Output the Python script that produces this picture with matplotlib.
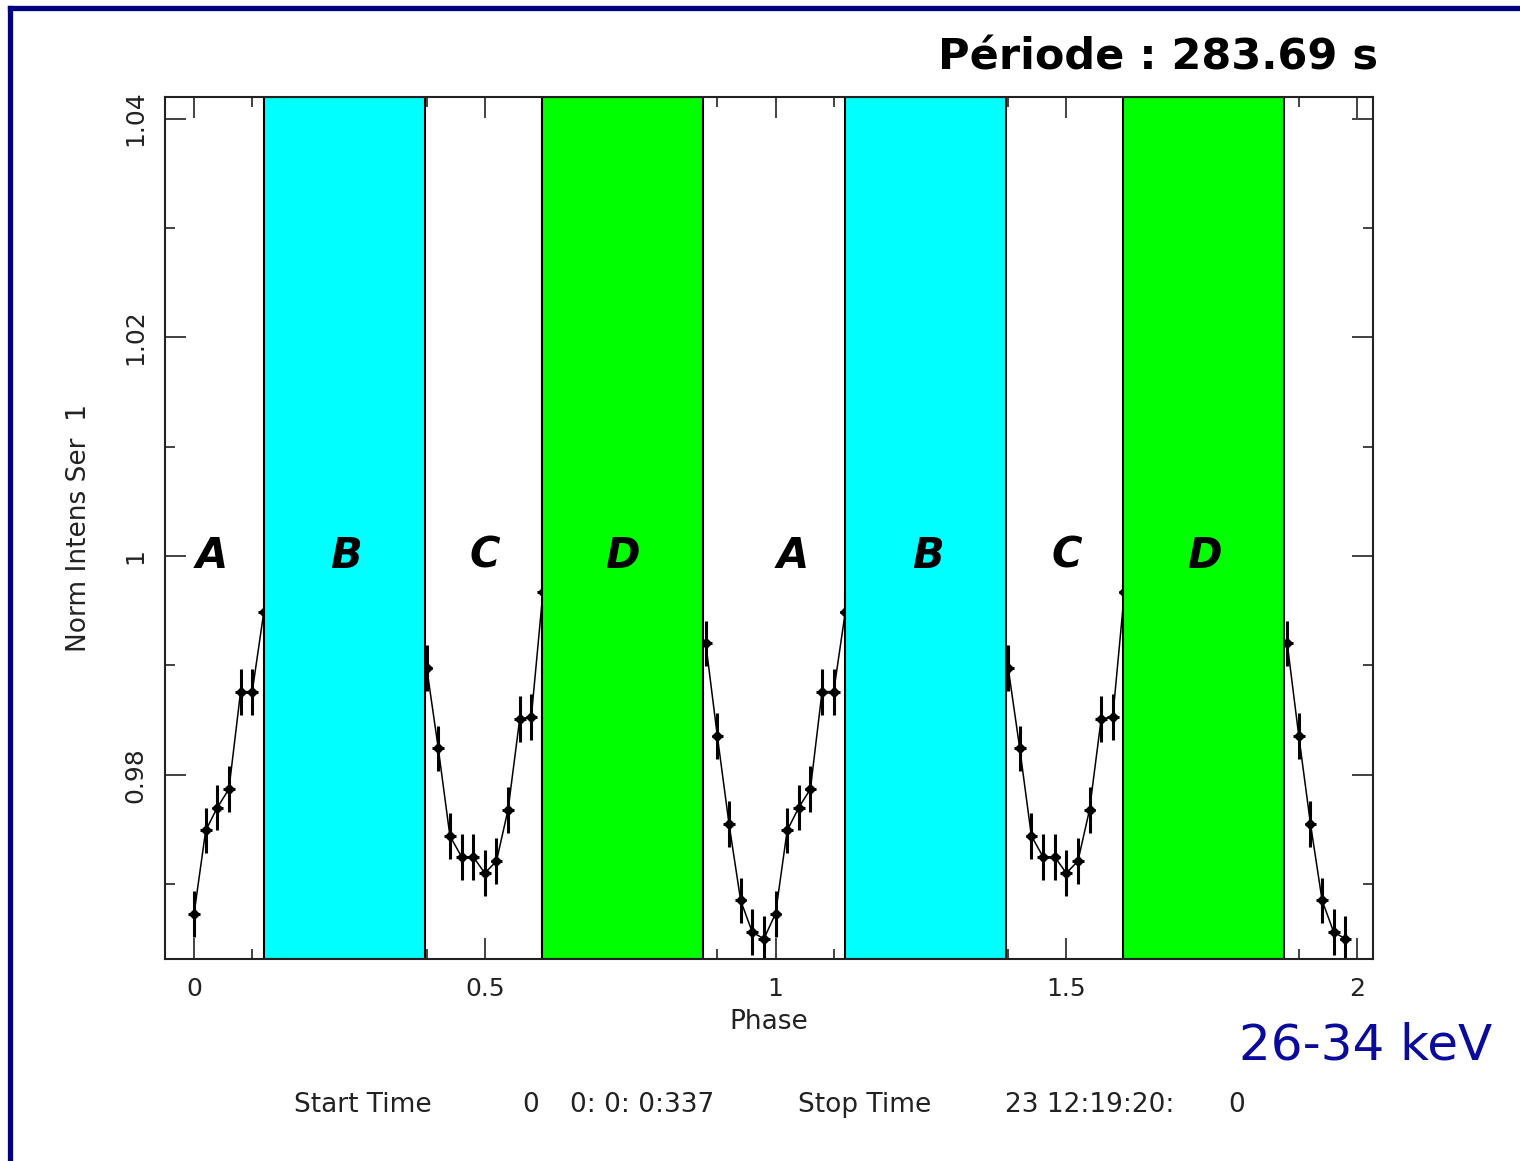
import numpy as np
import matplotlib
matplotlib.use("Agg")
import matplotlib.pyplot as plt
from matplotlib.lines import Line2D

# folded profile, 50 bins per cycle (bins hidden under the bands are left out)
bin_phase = [0.00, 0.02, 0.04, 0.06, 0.08, 0.10, 0.12,
             0.40, 0.42, 0.44, 0.46, 0.48, 0.50, 0.52, 0.54, 0.56, 0.58, 0.60,
             0.88, 0.90, 0.92, 0.94, 0.96, 0.98]
bin_rate = [0.9673, 0.9749, 0.9770, 0.9787, 0.9876, 0.9876, 0.9949,
            0.9898, 0.9824, 0.9744, 0.9725, 0.9725, 0.9710, 0.9721, 0.9768, 0.9851, 0.9853, 0.9967,
            0.9920, 0.9835, 0.9755, 0.9685, 0.9656, 0.9650]
bin_err = [0.0021] * len(bin_rate)
n_cycles = 2

# phase intervals B (cyan) and D (green), per cycle
band_b = (0.12, 0.397)
band_d = (0.598, 0.875)
region_names = ["A", "B", "C", "D"]
region_x = [0.03, 0.262, 0.50, 0.737]

x_ticks = [0, 0.5, 1, 1.5, 2]
x_ticklabels = ["0", "0.5", "1", "1.5", "2"]
y_ticks = [0.98, 1.00, 1.02, 1.04]
y_ticklabels = ["0.98", "1", "1.02", "1.04"]

W, H = 1520, 1161
fig = plt.figure(figsize=(W / 100, H / 100), dpi=100)
ax = fig.add_axes([165 / W, 1 - 959 / H, (1373 - 165) / W, (959 - 97) / H])

ph = np.concatenate([np.array(bin_phase) + k for k in range(n_cycles)])
rate = np.tile(bin_rate, n_cycles)
err = np.tile(bin_err, n_cycles)

ax.plot(ph, rate, color="black", lw=1.1, zorder=2)
ax.errorbar(ph, rate, yerr=err, xerr=0.01, fmt="D", ms=5, color="black",
            ecolor="black", elinewidth=2.2, capsize=0, zorder=3)

for k in range(n_cycles):
    ax.axvspan(band_b[0] + k, band_b[1] + k, color="#00ffff", ec="black", lw=1.5, zorder=4)
    ax.axvspan(band_d[0] + k, band_d[1] + k, color="#00ff00", ec="black", lw=1.5, zorder=4)
    for name, xr in zip(region_names, region_x):
        ax.text(xr + k, 1.0, name, fontsize=30, fontweight="bold", fontstyle="italic",
                ha="center", va="center", color="black", zorder=5)

ax.set_xlim(-0.05, 2.0275)
ax.set_ylim(0.96315, 1.04197)

ax.set_xticks(x_ticks)
ax.set_xticklabels(x_ticklabels)
ax.set_xticks(np.arange(0, 2.01, 0.1), minor=True)
ax.set_yticks(y_ticks)
ax.set_yticklabels(y_ticklabels, rotation=90, va="center")
ax.set_yticks(np.arange(0.97, 1.041, 0.01), minor=True)

ax.tick_params(which="both", direction="in", top=True, right=True,
               labelsize=18, labelcolor="#222222", width=1.2, color="#222222")
ax.tick_params(which="major", length=15, pad=13)
ax.tick_params(which="minor", length=7)
for s in ax.spines.values():
    s.set_linewidth(1.5)
    s.set_color("#222222")
    s.set_zorder(6)

ax.set_xlabel("Phase", fontsize=19, color="#222222", labelpad=6)
ax.set_ylabel("Norm Intens Ser  1", fontsize=19, color="#222222", labelpad=22)

fig.text(1378 / W, 1 - 57 / H, "Période : 283.69 s", fontsize=31, fontweight="bold",
         ha="right", va="center", color="black")
fig.text(1492 / W, 1 - 1045 / H, "26-34 keV", fontsize=36, ha="right", va="center",
         color="#0a0a9c")

footer_y = 1 - 1105 / H
for txt, xp in [("Start Time", 294), ("0", 522), ("0: 0: 0:337", 570),
                ("Stop Time", 798), ("23 12:19:20:", 1005), ("0", 1228)]:
    fig.text(xp / W, footer_y, txt, fontsize=19, ha="left", va="center", color="#222222")

# navy frame along the top and left edges
fig.add_artist(Line2D([10 / W, 1], [1 - 7.5 / H, 1 - 7.5 / H], color="#000080", lw=3.8,
                      transform=fig.transFigure))
fig.add_artist(Line2D([10 / W, 10 / W], [0, 1 - 7.5 / H], color="#000080", lw=3.8,
                      transform=fig.transFigure))

fig.savefig("out.png", dpi=100)
